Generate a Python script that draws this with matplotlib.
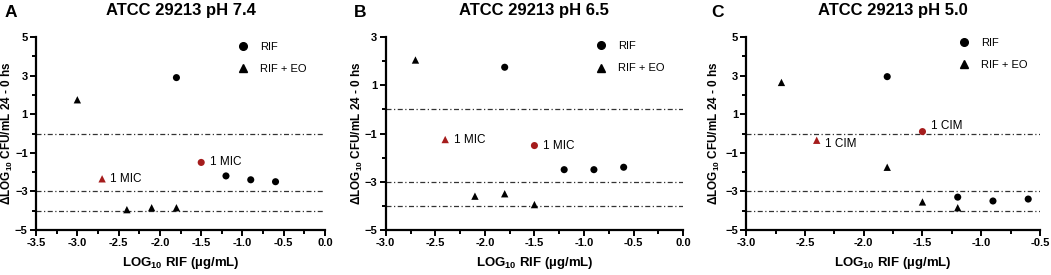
import matplotlib
matplotlib.use("Agg")
import matplotlib.pyplot as plt
from matplotlib.lines import Line2D
import numpy as np

plt.rcParams['font.family'] = ['Liberation Sans', 'DejaVu Sans']
plt.rcParams['mathtext.fontset'] = 'custom'
plt.rcParams['mathtext.rm'] = 'Liberation Sans:bold'
plt.rcParams['mathtext.default'] = 'rm'

# panel data: log10 RIF concentration and delta log10 CFU
titles = ["ATCC 29213 pH 7.4", "ATCC 29213 pH 6.5", "ATCC 29213 pH 5.0"]
letters = ["A", "B", "C"]

rif_x = [[-1.8, -1.5, -1.2, -0.9, -0.6],
         [-1.8, -1.5, -1.2, -0.9, -0.6],
         [-1.8, -1.5, -1.2, -0.9, -0.6]]
rif_y = [[2.9, -1.5, -2.2, -2.4, -2.5],
         [1.75, -1.5, -2.5, -2.5, -2.4],
         [2.95, 0.1, -3.3, -3.5, -3.4]]
eo_x = [[-3.0, -2.7, -2.4, -2.1, -1.8],
        [-2.7, -2.4, -2.1, -1.8, -1.5],
        [-2.7, -2.4, -1.8, -1.5, -1.2]]
eo_y = [[1.75, -2.35, -3.95, -3.85, -3.85],
        [2.05, -1.25, -3.6, -3.5, -3.95],
        [2.65, -0.35, -1.75, -3.55, -3.85]]
# index of the 1 MIC point in each series
rif_mic = [1, 1, 1]
eo_mic = [1, 1, 1]
mic_label = ["1 MIC", "1 MIC", "1 CIM"]
ref_lines = [0, -3, -4]

xlims = [(-3.5, 0.0), (-3.0, 0.0), (-3.0, -0.5)]
ylims = [(-5, 5), (-5, 3), (-5, 5)]

red = "#a51c1c"
fig = plt.figure(figsize=(10.51, 2.75), dpi=100)
lefts = [0.0343, 0.367, 0.710]
widths = [0.275, 0.283, 0.2795]
ylab_x = [-0.073, -0.071, -0.082]
leg_anchor = [(0.697, 0.974), (0.705, 0.979), (0.723, 0.995)]
rif_off = [(6, 0), (6, 0), (6, 4)]
eo_off = [(6, 0), (6, 0), (6, -3)]
letter_x = [0.004, 0.337, 0.677]

for i in range(3):
    ax = fig.add_axes([lefts[i], 0.164, widths[i], 0.701])
    for yv in ref_lines:
        ax.axhline(yv, color="#333333", lw=0.9, ls=(0, (4, 2, 1, 2)), zorder=1)
    cc = ["black"] * len(rif_x[i])
    cc[rif_mic[i]] = red
    ct = ["black"] * len(eo_x[i])
    ct[eo_mic[i]] = red
    ax.scatter(rif_x[i], rif_y[i], marker="o", s=26, c=cc, zorder=3, linewidths=0)
    ax.scatter(eo_x[i], eo_y[i], marker="^", s=28, c=ct, zorder=3, linewidths=0)
    ax.annotate(mic_label[i], (rif_x[i][rif_mic[i]], rif_y[i][rif_mic[i]]),
                xytext=rif_off[i], textcoords="offset points", va="center",
                fontsize=8.5)
    ax.annotate(mic_label[i], (eo_x[i][eo_mic[i]], eo_y[i][eo_mic[i]]),
                xytext=eo_off[i], textcoords="offset points", va="center",
                fontsize=8.5)

    ax.set_xlim(*xlims[i])
    ax.set_ylim(*ylims[i])
    ax.spines["top"].set_visible(False)
    ax.spines["right"].set_visible(False)
    ax.spines["left"].set_linewidth(1.6)
    ax.spines["bottom"].set_linewidth(1.6)
    major = np.arange(xlims[i][0], xlims[i][1] + 0.01, 0.5)
    ax.set_xticks(major)
    ax.set_xticks(np.arange(xlims[i][0], xlims[i][1] + 0.01, 0.25), minor=True)
    ax.set_xticklabels([f"{v:.1f}" for v in major])
    ax.set_yticks(np.arange(ylims[i][0], ylims[i][1] + 0.1, 2))
    ax.set_yticks(np.arange(ylims[i][0], ylims[i][1] + 0.1, 1), minor=True)
    ax.tick_params(which="major", width=1.4, length=4, labelsize=8, pad=2)
    ax.tick_params(which="minor", width=1.4, length=3)
    for lab in ax.get_xticklabels() + ax.get_yticklabels():
        lab.set_fontweight("bold")
    ax.set_xlabel("LOG$_{10}$ RIF (µg/mL)", fontsize=9.5, fontweight="bold", labelpad=5)
    ax.set_ylabel("ΔLOG$_{10}$ CFU/mL 24 - 0 hs", fontsize=8.5, fontweight="bold")
    ax.yaxis.set_label_coords(ylab_x[i], 0.5)
    ax.set_title(titles[i], fontsize=12, fontweight="bold", pad=16)

    handles = [Line2D([], [], marker="o", ls="none", color="black", markersize=5.5),
               Line2D([], [], marker="^", ls="none", color="black", markersize=5.5)]
    ax.legend(handles, ["RIF", "RIF + EO"], loc="upper left", frameon=False,
              fontsize=8, handlelength=1, handletextpad=1.0, labelspacing=1.1,
              borderpad=0, borderaxespad=0, bbox_to_anchor=leg_anchor[i])
    fig.text(letter_x[i], 0.955, letters[i], fontsize=12.5, fontweight="bold",
             va="center")

fig.savefig("out.png", dpi=100)
